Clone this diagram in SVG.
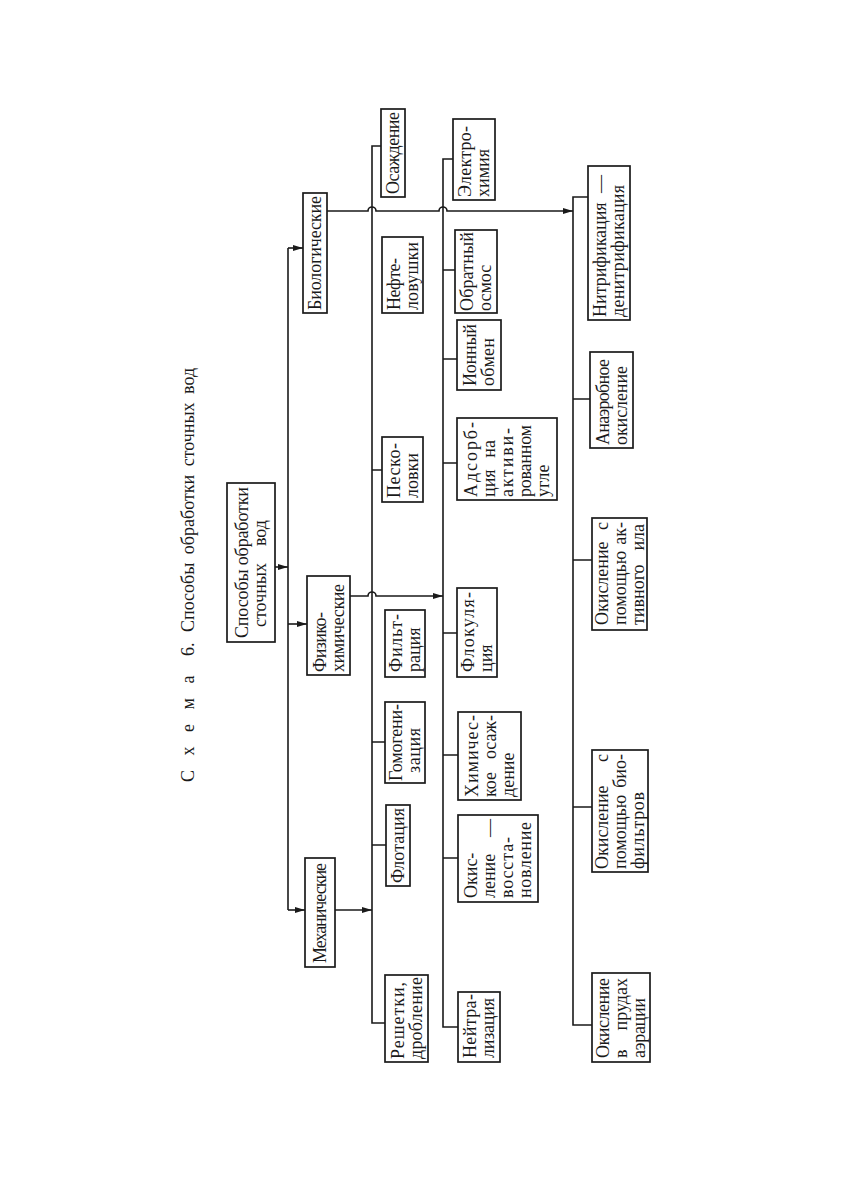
<svg xmlns="http://www.w3.org/2000/svg" width="843" height="1188" viewBox="0 0 843 1188">
<style>
.box{fill:#fff;stroke:#1a1a1a;stroke-width:1.7}
.t{font-family:"Liberation Serif","Times New Roman",serif;font-size:18px;fill:#1a1a1a}
.title{font-family:"Liberation Serif","Times New Roman",serif;font-size:18px;fill:#1a1a1a}
.c{fill:none;stroke:#1a1a1a;stroke-width:1.6}
.e{text-anchor:end}
</style>
<defs>
<marker id="arr" markerWidth="10" markerHeight="6" refX="10" refY="3" orient="auto" markerUnits="userSpaceOnUse">
<path d="M0,0 L10,3 L0,6 z" fill="#1a1a1a"/>
</marker>
</defs>
<rect width="843" height="1188" fill="#fff"/>

<text class="title" transform="translate(194,782) rotate(-90)"><tspan x="0" letter-spacing="5">С х е м а</tspan><tspan x="126">6.</tspan><tspan x="150" word-spacing="4">Способы обработки сточных вод</tspan></text>

<g id="connectors" class="c">
<path d="M275,567 H288" marker-end="url(#arr)"/>
<path d="M288,248 V910"/>
<path d="M288,248 H303" marker-end="url(#arr)"/>
<path d="M288,624 H307" marker-end="url(#arr)"/>
<path d="M288,910 H305" marker-end="url(#arr)"/>
<path d="M335,910 H372" marker-end="url(#arr)"/>
<path d="M381,146 H372 V1023 H385"/>
<path d="M372,470 H382 M372,742 H385 M372,845 H386"/>
<path d="M350,596 H368 A4,4 0 0 1 376,596 H443" marker-end="url(#arr)"/>
<path d="M453,159 H443 V1027 H458"/>
<path d="M443,270 H455 M443,359 H457 M443,463 H457 M443,633 H457 M443,755 H458 M443,858 H458"/>
<path d="M327,211 H368 A4,4 0 0 1 376,211 H439 A4,4 0 0 1 447,211 H573" marker-end="url(#arr)"/>
<path d="M588,197 H573 V1025 H592"/>
<path d="M573,399 H590 M573,560 H592 M573,807 H592"/>
</g>

<g id="n-root" transform="translate(227,642) rotate(-90)">
<rect class="box" width="159" height="48"/>
<text class="t" x="4" y="21" textLength="151">Способы обработки</text>
<text class="t" y="39"><tspan x="15">сточных </tspan><tspan class="e" x="122">вод</tspan></text>
</g>

<g id="n-bio" transform="translate(303,313) rotate(-90)">
<rect class="box" width="120" height="24"/>
<text class="t" x="3" y="18" textLength="114">Биологические</text>
</g>

<g id="n-phys" transform="translate(307,675) rotate(-90)">
<rect class="box" width="99" height="43"/>
<text class="t" x="3" y="18.5" textLength="60">Физико-</text>
<text class="t" x="3" y="36.5" textLength="88">химические</text>
</g>

<g id="n-mech" transform="translate(305,967) rotate(-90)">
<rect class="box" width="109" height="30"/>
<text class="t" x="4" y="21" textLength="100">Механические</text>
</g>

<g id="n-osazh" transform="translate(381,197) rotate(-90)">
<rect class="box" width="88" height="24"/>
<text class="t" x="3" y="18" textLength="82">Осаждение</text>
</g>

<g id="n-neft" transform="translate(382,313) rotate(-90)">
<rect class="box" width="76" height="41"/>
<text class="t" x="3" y="17.5" textLength="52">Нефте-</text>
<text class="t" x="3" y="35.5" textLength="68">ловушки</text>
</g>

<g id="n-pesk" transform="translate(382,502) rotate(-90)">
<rect class="box" width="65" height="41"/>
<text class="t" x="4" y="17.5" textLength="55">Песко-</text>
<text class="t" x="4" y="35.5">ловки</text>
</g>

<g id="n-filt" transform="translate(385,677) rotate(-90)">
<rect class="box" width="67" height="40"/>
<text class="t" x="5" y="17" textLength="58">Фильт-</text>
<text class="t" x="5" y="35">рация</text>
</g>

<g id="n-gomo" transform="translate(385,783) rotate(-90)">
<rect class="box" width="81" height="40"/>
<text class="t" x="2" y="17" textLength="77">Гомогени-</text>
<text class="t" x="10" y="35" textLength="45">зация</text>
</g>

<g id="n-flot" transform="translate(386,886) rotate(-90)">
<rect class="box" width="81" height="24"/>
<text class="t" x="3" y="18" textLength="75">Флотация</text>
</g>

<g id="n-resh" transform="translate(385,1062) rotate(-90)">
<rect class="box" width="87" height="43"/>
<text class="t" x="3" y="18.5" textLength="77">Решетки,</text>
<text class="t" x="3" y="36.5" textLength="82">дробление</text>
</g>

<g id="n-elec" transform="translate(453,200) rotate(-90)">
<rect class="box" width="81" height="42"/>
<text class="t" x="3" y="18" textLength="71">Электро-</text>
<text class="t" x="3" y="36">химия</text>
</g>

<g id="n-osmos" transform="translate(455,313) rotate(-90)">
<rect class="box" width="83" height="42"/>
<text class="t" x="2" y="18" textLength="79">Обратный</text>
<text class="t" x="2" y="36">осмос</text>
</g>

<g id="n-ion" transform="translate(457,390) rotate(-90)">
<rect class="box" width="70" height="44"/>
<text class="t" x="4" y="19" textLength="62">Ионный</text>
<text class="t" x="4" y="37" textLength="48">обмен</text>
</g>

<g id="n-ads" transform="translate(457,500) rotate(-90)">
<rect class="box" width="82" height="100"/>
<text class="t" x="3" y="20" textLength="75">Адсорб-</text>
<text class="t" y="38"><tspan x="3">ция </tspan><tspan class="e" x="60">на</tspan></text>
<text class="t" x="3" y="56" textLength="69">активи-</text>
<text class="t" x="3" y="74" textLength="72">рованном</text>
<text class="t" x="3" y="92">угле</text>
</g>

<g id="n-floc" transform="translate(457,677) rotate(-90)">
<rect class="box" width="89" height="40"/>
<text class="t" x="5" y="17" textLength="80">Флокуля-</text>
<text class="t" x="5" y="35">ция</text>
</g>

<g id="n-chem" transform="translate(458,800) rotate(-90)">
<rect class="box" width="88" height="63"/>
<text class="t" x="3" y="19.5" textLength="82">Химичес-</text>
<text class="t" y="37.5"><tspan x="3">кое </tspan><tspan class="e" x="85">осаж-</tspan></text>
<text class="t" x="3" y="55.5">дение</text>
</g>

<g id="n-okis" transform="translate(458,902) rotate(-90)">
<rect class="box" width="87" height="80"/>
<text class="t" x="4" y="19">Окис-</text>
<text class="t" y="37"><tspan x="4">ление </tspan><tspan class="e" x="83">—</tspan></text>
<text class="t" x="4" y="55" textLength="61">восста-</text>
<text class="t" x="4" y="73" textLength="76">новление</text>
</g>

<g id="n-neut" transform="translate(458,1062) rotate(-90)">
<rect class="box" width="70" height="42"/>
<text class="t" x="4" y="18" textLength="64">Нейтра-</text>
<text class="t" x="4" y="36" textLength="60">лизация</text>
</g>

<g id="n-nitr" transform="translate(588,320) rotate(-90)">
<rect class="box" width="154" height="42"/>
<text class="t" y="18"><tspan x="3">Нитрификация </tspan><tspan class="e" x="145">—</tspan></text>
<text class="t" x="3" y="36" textLength="132">денитрификация</text>
</g>

<g id="n-anaer" transform="translate(590,448) rotate(-90)">
<rect class="box" width="96" height="43"/>
<text class="t" x="3" y="18.5" textLength="86">Анаэробное</text>
<text class="t" x="3" y="36.5" textLength="79">окисление</text>
</g>

<g id="n-ila" transform="translate(592,630) rotate(-90)">
<rect class="box" width="112" height="55"/>
<text class="t" y="15.5"><tspan x="5">Окисление </tspan><tspan class="e" x="108">с</tspan></text>
<text class="t" y="33.5"><tspan x="5">помощью </tspan><tspan class="e" x="108">ак-</tspan></text>
<text class="t" y="51.5"><tspan x="5">тивного </tspan><tspan class="e" x="106">ила</tspan></text>
</g>

<g id="n-biof" transform="translate(592,872) rotate(-90)">
<rect class="box" width="122" height="56"/>
<text class="t" y="16"><tspan x="3">Окисление </tspan><tspan class="e" x="118">с</tspan></text>
<text class="t" y="34"><tspan x="3">помощью </tspan><tspan class="e" x="118">био-</tspan></text>
<text class="t" x="3" y="52" textLength="77">фильтров</text>
</g>

<g id="n-prud" transform="translate(592,1062) rotate(-90)">
<rect class="box" width="89" height="58"/>
<text class="t" x="4" y="17" textLength="80">Окисление</text>
<text class="t" y="35"><tspan x="4">в </tspan><tspan class="e" x="84">прудах</tspan></text>
<text class="t" x="4" y="53" textLength="60">аэрации</text>
</g>
</svg>
